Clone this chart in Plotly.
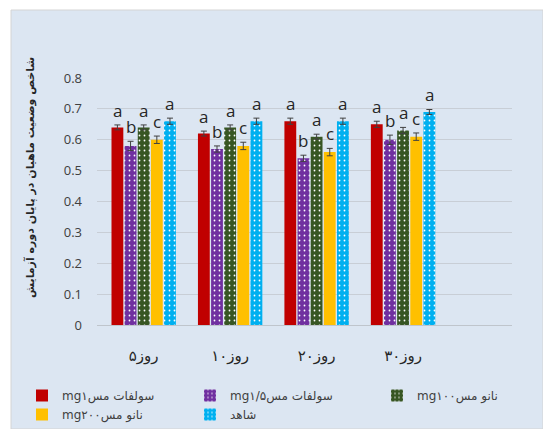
import plotly.graph_objects as go

# ---------------- data ----------------
categories = ["روز۵", "روز۱۰", "روز۲۰", "روز۳۰"]
series_names = ["mg۱سولفات مس", "mg۱/۵سولفات مس", "mg۱۰۰نانو مس", "mg۲۰۰نانو مس", "شاهد"]

red_vals = [0.64, 0.62, 0.66, 0.65]
purple_vals = [0.58, 0.57, 0.54, 0.60]
green_vals = [0.64, 0.64, 0.61, 0.63]
yellow_vals = [0.60, 0.58, 0.56, 0.61]
blue_vals = [0.66, 0.66, 0.66, 0.69]

red_err = [0.008, 0.008, 0.010, 0.010]
purple_err = [0.015, 0.010, 0.010, 0.015]
green_err = [0.008, 0.008, 0.008, 0.010]
yellow_err = [0.012, 0.012, 0.012, 0.012]
blue_err = [0.010, 0.010, 0.010, 0.008]

red_letters = ["a", "a", "a", "a"]
purple_letters = ["b", "b", "b", "b"]
green_letters = ["a", "a", "a", "a"]
yellow_letters = ["c", "c", "c", "c"]
blue_letters = ["a", "a", "a", "a"]

y_title = "شاخص وضعیت ماهیان در پایان دوره آزمایش"
y_ticks = [0, 0.1, 0.2, 0.3, 0.4, 0.5, 0.6, 0.7, 0.8]

# ---------------- styles ----------------
values = [red_vals, purple_vals, green_vals, yellow_vals, blue_vals]
errors = [red_err, purple_err, green_err, yellow_err, blue_err]
letters = [red_letters, purple_letters, green_letters, yellow_letters, blue_letters]
colors = ["#c00000", "#7030a0", "#375623", "#ffc000", "#00b0f0"]
patterned = [False, True, True, False, True]
legend_ids = ["legend", "legend2", "legend3", "legend", "legend2"]

W, H = 543, 429
ML, MR, MT, MB = 97, 31, 78, 104
PW = W - ML - MR
PH = H - MT - MB
BG = "#dce6f2"
ARFONT = "DejaVu Sans"

fig = go.Figure()
for i in range(5):
    marker = dict(color=colors[i], line=dict(width=0))
    if patterned[i]:
        marker["pattern"] = dict(shape=".", fgcolor="white", bgcolor=colors[i],
                                 size=5, solidity=0.1, fillmode="replace")
    fig.add_trace(go.Bar(
        x=categories, y=values[i], name=series_names[i], marker=marker,
        error_y=dict(type="data", array=errors[i], visible=True,
                     color="#404040", thickness=1, width=3),
        legend=legend_ids[i],
    ))

# significance letters
slot = PW / 4.8 * (1 - 0.24) / 5
for i in range(5):
    for j in range(len(categories)):
        fig.add_annotation(
            x=categories[j], y=values[i][j] + errors[i][j], xref="x", yref="y",
            text=letters[i][j], showarrow=False, yanchor="bottom",
            xshift=(i - 2) * slot, yshift=1,
            font=dict(family="Open Sans", size=17, color="#262626"),
        )

# y-axis title (rotated)
fig.add_annotation(
    x=(21 - ML) / PW, y=(MT + PH - 178) / PH, xref="paper", yref="paper",
    text="<b>" + y_title + "</b>", textangle=-90, showarrow=False,
    font=dict(family=ARFONT, size=11, color="#262626"),
)

# chart background panel
fig.add_shape(type="rect", xref="paper", yref="paper", layer="below",
              x0=(11 - ML) / PW, x1=(W - ML) / PW,
              y0=(MT + PH - H) / PH, y1=(MT + PH - 10) / PH,
              fillcolor=BG, line=dict(color="#d4d4d4", width=1))

leg_common = dict(orientation="v", yanchor="top", xanchor="left",
                  bgcolor="rgba(0,0,0,0)", tracegroupgap=0,
                  font=dict(family=ARFONT, size=12, color="#404040"))
ly = (MT + PH - 381) / PH

fig.update_layout(
    width=W, height=H,
    margin=dict(l=ML, r=MR, t=MT, b=MB, autoexpand=False),
    paper_bgcolor="white", plot_bgcolor=BG,
    barmode="group", bargap=0.24, bargroupgap=0.1,
    showlegend=True,
    legend=dict(x=(22 - ML) / PW, y=ly, **leg_common),
    legend2=dict(x=(190 - ML) / PW, y=ly, **leg_common),
    legend3=dict(x=(377 - ML) / PW, y=ly, **leg_common),
    xaxis=dict(type="category", range=[-0.54, 4.26], showgrid=False,
               showline=False, ticks="", zeroline=False, automargin=False,
               tickfont=dict(family=ARFONT, size=15, color="#262626"),
               ticklabelstandoff=20),
    yaxis=dict(range=[0, 0.8], tickvals=y_ticks, ticktext=[f"{v:g}" for v in y_ticks],
               showgrid=True, gridcolor="#c8ced6", gridwidth=1,
               zeroline=True, zerolinecolor="#bfc5cc", zerolinewidth=1,
               showline=False, ticks="", automargin=False,
               tickfont=dict(family="Open Sans", size=13, color="#404040"),
               ticklabelstandoff=14),
)

fig.write_html("out.html")
